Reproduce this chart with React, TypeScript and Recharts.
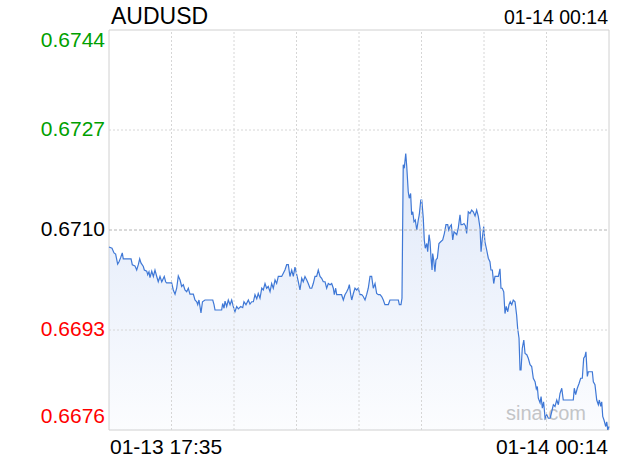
import React from "react";
import { AreaChart, Area, XAxis, YAxis, ReferenceLine, ReferenceArea } from "recharts";

// minutes since 01-13 17:35
const minutes = [
  0, 2.4, 4.0, 5.3, 6.9, 8.0, 9.3, 10.6, 11.4, 12.8, 17.6, 18.6, 20.7, 22.1, 23.4, 24.5, 25.5, 27.4, 28.2, 30.1,
  30.9, 31.9, 32.7, 34.1, 35.4, 36.7, 38.1, 39.3, 40.7, 42.1, 44.1, 45.2, 46.0, 50.0, 51.3, 52.7, 54.0, 55.3, 56.7, 58.0,
  59.3, 60.6, 62.0, 63.3, 64.6, 67.3, 68.6, 70.0, 70.8, 71.8, 72.6, 73.4, 74.6, 76.6, 82.8, 83.8, 84.6, 89.9, 90.7, 91.8,
  92.6, 93.9, 95.2, 96.6, 97.9, 99.2, 100.5, 101.9, 103.2, 105.1, 106.7, 107.7, 109.3, 111.2, 112.5, 113.9, 115.2, 116.5, 117.9, 119.1,
  120.5, 121.9, 123.1, 124.5, 125.8, 127.1, 128.5, 129.8, 131.1, 132.5, 133.8, 135.1, 137.8, 140.4, 141.8, 143.1, 144.4, 145.8, 147.1, 148.4,
  149.8, 151.1, 152.4, 153.8, 155.0, 156.4, 157.8, 159.0, 160.4, 161.8, 163.0, 164.4, 165.7, 167.0, 168.4, 169.7, 171.0, 172.4, 173.7, 175.0,
  176.4, 177.7, 179.0, 179.8, 180.9, 181.7, 185.6, 187.0, 188.3, 189.7, 191.0, 191.8, 192.9, 193.7, 195.0, 196.3, 197.7, 198.9, 200.3, 201.7,
  202.9, 204.3, 205.6, 206.9, 208.3, 209.6, 210.9, 212.3, 213.6, 214.9, 216.3, 217.6, 218.9, 220.2, 222.9, 224.2, 230.9, 231.7, 233.0, 233.8,
  234.8, 235.6, 236.8, 237.6, 238.8, 239.6, 240.7, 241.5, 242.4, 243.4, 244.4, 245.6, 246.8, 247.6, 248.8, 249.6, 250.8, 251.6, 252.4, 253.6,
  254.3, 255.4, 256.2, 257.0, 257.8, 258.3, 259.1, 260.1, 260.9, 262.0, 263.3, 264.7, 266.3, 267.6, 268.9, 270.3, 271.1, 272.1, 273.2, 274.3,
  275.3, 276.7, 277.5, 278.7, 280.1, 280.9, 281.9, 283.3, 284.5, 285.4, 286.7, 288.1, 289.4, 290.7, 292.1, 293.4, 294.7, 296.1, 296.9, 297.9,
  299.0, 300.0, 301.4, 302.7, 304.0, 304.8, 305.9, 307.0, 308.0, 310.7, 312.0, 312.8, 313.8, 315.0, 316.0, 317.0, 318.2, 319.2, 320.2, 321.4,
  322.6, 324.0, 325.3, 326.1, 327.2, 328.0, 328.8, 329.8, 331.0, 332.0, 333.4, 334.6, 336.0, 337.3, 338.6, 340.0, 341.0, 341.8, 342.6, 344.0,
  344.8, 345.8, 346.8, 348.0, 349.3, 350.6, 352.0, 353.3, 354.6, 355.9, 357.3, 358.6, 359.9, 361.3, 362.5, 370.5, 371.3, 372.4, 373.7, 375.1,
  376.4, 377.7, 378.8, 379.8, 380.6, 381.7, 382.5, 385.7, 386.5, 387.8, 389.2, 390.5, 391.3, 392.4, 393.2, 394.0, 395.0, 396.4, 397.2, 398.0,
  399.0,
];

const prices = [
  0.67071, 0.67069, 0.67061, 0.67059, 0.67042, 0.67046, 0.67053, 0.67061, 0.67051, 0.67051, 0.67051, 0.67041, 0.67039, 0.67032, 0.67041, 0.67051, 0.67044, 0.67038, 0.67032, 0.6703,
  0.67024, 0.67029, 0.67019, 0.6703, 0.67021, 0.67032, 0.67021, 0.67012, 0.67021, 0.67012, 0.67021, 0.67012, 0.6701, 0.6701, 0.66998, 0.66991, 0.67001, 0.67022, 0.67015, 0.67004,
  0.67007, 0.66998, 0.66995, 0.67001, 0.66991, 0.66991, 0.66981, 0.66978, 0.66973, 0.66981, 0.6697, 0.66959, 0.66978, 0.66981, 0.66981, 0.66973, 0.66964, 0.66964, 0.66975, 0.66967,
  0.66979, 0.6697, 0.66981, 0.66973, 0.66981, 0.6697, 0.66961, 0.6697, 0.66966, 0.6697, 0.66968, 0.66978, 0.66973, 0.66981, 0.66974, 0.66978, 0.66978, 0.6699, 0.66983, 0.66992,
  0.66984, 0.67001, 0.66998, 0.67009, 0.67001, 0.67004, 0.66995, 0.67009, 0.67001, 0.67015, 0.67009, 0.67021, 0.67021, 0.67032, 0.67041, 0.67041, 0.67021, 0.67032, 0.67021, 0.67037,
  0.67024, 0.67012, 0.66998, 0.67018, 0.67012, 0.67021, 0.67015, 0.67009, 0.67001, 0.67001, 0.67009, 0.67021, 0.67021, 0.67032, 0.67021, 0.67018, 0.67012, 0.67012, 0.67001, 0.67009,
  0.67007, 0.67009, 0.67001, 0.6699, 0.67001, 0.6699, 0.6699, 0.66981, 0.6699, 0.66995, 0.67001, 0.67007, 0.6699, 0.66981, 0.66992, 0.67001, 0.66998, 0.67001, 0.6699, 0.6699,
  0.66987, 0.66981, 0.6699, 0.67001, 0.67021, 0.67021, 0.67001, 0.67009, 0.66992, 0.6699, 0.6699, 0.66987, 0.66981, 0.66973, 0.66973, 0.66981, 0.66981, 0.66973, 0.66973, 0.66984,
  0.67211, 0.67205, 0.6723, 0.67208, 0.67165, 0.67154, 0.67162, 0.67126, 0.67131, 0.67114, 0.67117, 0.671, 0.67117, 0.67126, 0.67151, 0.67151, 0.6712, 0.67083, 0.67069, 0.67077,
  0.67063, 0.67092, 0.6708, 0.67052, 0.67032, 0.6706, 0.67049, 0.67029, 0.67049, 0.67052, 0.67077, 0.6708, 0.67083, 0.67094, 0.67109, 0.67109, 0.671, 0.67106, 0.67109, 0.67083,
  0.67097, 0.67094, 0.67092, 0.67103, 0.67126, 0.67109, 0.67109, 0.67111, 0.67107, 0.67094, 0.67131, 0.67128, 0.67134, 0.67131, 0.67124, 0.67134, 0.67123, 0.67103, 0.67063, 0.67086,
  0.67106, 0.6708, 0.67066, 0.67052, 0.67046, 0.67032, 0.67032, 0.67009, 0.67021, 0.67021, 0.67034, 0.67001, 0.67001, 0.66995, 0.66958, 0.6697, 0.66961, 0.66973, 0.66978, 0.66973,
  0.66981, 0.66978, 0.66955, 0.66933, 0.66916, 0.66862, 0.66862, 0.66899, 0.66913, 0.6689, 0.66888, 0.66882, 0.66871, 0.66868, 0.66848, 0.66842, 0.6683, 0.66834, 0.66814, 0.66806,
  0.66817, 0.66797, 0.66808, 0.6678, 0.66786, 0.6678, 0.6678, 0.66791, 0.66803, 0.668, 0.66811, 0.66803, 0.66822, 0.66831, 0.66811, 0.66811, 0.66831, 0.6682, 0.66831, 0.66839,
  0.66848, 0.66848, 0.66882, 0.66885, 0.66893, 0.66851, 0.66859, 0.66859, 0.66842, 0.66837, 0.66811, 0.66803, 0.66811, 0.668, 0.66808, 0.66783, 0.66777, 0.66766, 0.66774, 0.6676,
  0.66766,
];

const yTicks = [0.6744, 0.6727, 0.671, 0.6693, 0.6676];
const prevClose = 0.671;
const xTicks = [0, 399];
const symbol = "AUDUSD";
const startMinuteOfDay = 17 * 60 + 35;
const startDay = 13;

const FONT = "'Liberation Sans', Arial, sans-serif";

function timeLabel(t: number) {
  const total = startMinuteOfDay + Math.round(t);
  const day = startDay + Math.floor(total / 1440);
  const m = total % 1440;
  const hh = String(Math.floor(m / 60)).padStart(2, "0");
  const mm = String(m % 60).padStart(2, "0");
  return `01-${day} ${hh}:${mm}`;
}

const data = minutes.slice(0, prices.length).map((t, i) => ({ t, price: prices[i] }));
const vGrid = [1, 2, 3, 4, 5, 6, 7].map((i) => (i * 399) / 8);

function YTick(props: any) {
  const { x, y, payload, index } = props;
  const v = payload.value;
  const color = v > prevClose + 1e-9 ? "#00a000" : v < prevClose - 1e-9 ? "#ff0000" : "#000";
  const shift = index === 0 ? 9.5 : index === yTicks.length - 1 ? -14.5 : -2;
  return (
    <text x={x} y={y + shift + 7.5} textAnchor="end" fill={color} fontSize={21} fontFamily={FONT}>
      {v.toFixed(4)}
    </text>
  );
}

function XTick(props: any) {
  const { x, y, payload, index } = props;
  const first = index === 0;
  return (
    <text x={first ? x + 1 : x - 1} y={y + 24} textAnchor={first ? "start" : "end"} fill="#000" fontSize={21} fontFamily={FONT}>
      {timeLabel(payload.value)}
    </text>
  );
}

export default function App() {
  return (
    <div style={{ position: "absolute", left: 0, top: 0, width: 620, height: 460, background: "#fff" }}>
      <svg width={620} height={460} style={{ position: "absolute", left: 0, top: 0 }}>
        <text x={111} y={24} fontSize={23} fontFamily={FONT} fill="#000">{symbol}</text>
        <text x={608} y={24} fontSize={19.5} fontFamily={FONT} fill="#000" textAnchor="end">
          {timeLabel(xTicks[1])}
        </text>
        <text x={506} y={420} fontSize={20} fontFamily={FONT} fill="#c4c4c4">sina.com</text>
      </svg>
      <div style={{ position: "absolute", left: 0, top: 0 }}>
        <AreaChart width={620} height={460} data={data} margin={{ top: 30, right: 11, bottom: 0, left: 0 }}>
          <defs>
            <linearGradient id="fillGrad" x1="0" y1="0" x2="0" y2="1">
              <stop offset="0%" stopColor="#b9cdf2" stopOpacity={0.45} />
              <stop offset="100%" stopColor="#b9cdf2" stopOpacity={0.05} />
            </linearGradient>
          </defs>
          <XAxis
            dataKey="t"
            type="number"
            domain={[0, 399]}
            ticks={xTicks}
            tick={<XTick />}
            tickLine={false}
            axisLine={false}
            tickSize={0}
            tickMargin={0}
            height={30}
            interval={0}
          />
          <YAxis
            type="number"
            domain={[0.6676, 0.6744]}
            ticks={yTicks}
            allowDataOverflow
            tick={<YTick />}
            tickLine={false}
            axisLine={false}
            tickSize={0}
            tickMargin={4}
            width={109}
            interval={0}
          />
          <ReferenceArea x1={0} x2={399} y1={0.6676} y2={0.6744} fill="none" stroke="#d0d0d0" strokeWidth={1} />
          {vGrid.map((v) => (
            <ReferenceLine key={"v" + v} x={v} stroke="#d6d6d6" strokeDasharray="2 2" />
          ))}
          <ReferenceLine y={0.6727} stroke="#d6d6d6" strokeDasharray="2 2" />
          <ReferenceLine y={0.6693} stroke="#d6d6d6" strokeDasharray="2 2" />
          <ReferenceLine y={prevClose} stroke="#b4b4b4" strokeDasharray="3 2" />
          <Area
            type="linear"
            dataKey="price"
            stroke="#3f78d6"
            strokeWidth={1.2}
            fill="url(#fillGrad)"
            fillOpacity={1}
            isAnimationActive={false}
            dot={false}
            activeDot={false}
          />
        </AreaChart>
      </div>
    </div>
  );
}
